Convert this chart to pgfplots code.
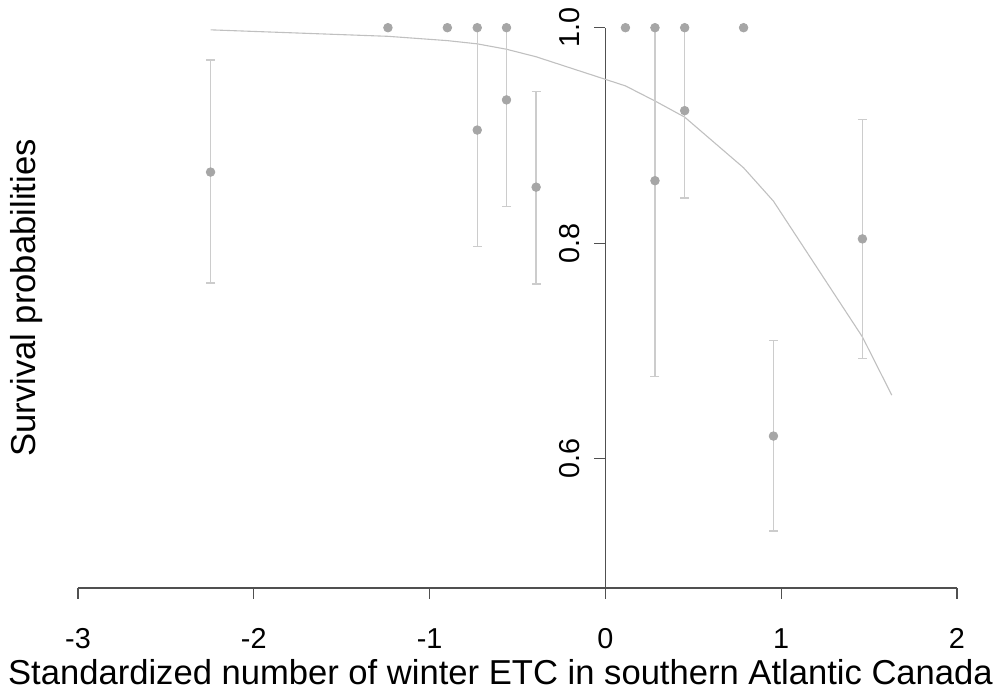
\documentclass[border=0pt]{standalone}
\usepackage{pgfplots}
\pgfplotsset{compat=1.18}
\usepackage{fontspec}
\setmainfont{Liberation Sans}
\definecolor{ptcol}{RGB}{166,166,166}
\definecolor{barcol}{RGB}{204,204,204}
\definecolor{curvecol}{RGB}{192,192,192}
\definecolor{axcol}{RGB}{80,80,80}
\begin{document}
\begin{tikzpicture}
\begin{axis}[
  at={(0,0)}, anchor=south west,
  scale only axis, width=439.5pt, height=280.15pt,
  xmin=-3, xmax=2, ymin=0.48, ymax=1.0,
  enlargelimits=false, clip=false,
  axis x line=bottom, axis y line=center,
  axis line style={-, draw=axcol, line width=0.55pt},
  hide obscured x ticks=false, hide obscured y ticks=false,
  xtick={-3,-2,-1,0,1,2}, ytick={0.6,0.8,1.0},
  yticklabels={0.6,0.8,1.0},
  tick align=outside, major tick length=5.5pt,
  tick style={draw=axcol, line width=0.55pt},
  /pgf/number format/assume math mode=true,
  ticklabel style={font=\fontsize{14.4}{17}\selectfont},
  xticklabel style={anchor=base, yshift=-25pt},
  yticklabel style={rotate=90, anchor=base, yshift=7.5pt},
  xticklabel={\pgfmathprintnumber{\tick}},
]
% fitted survival curve
\addplot[curvecol, line width=0.55pt, no markers] coordinates {
(-2.246,0.998) (-1.237,0.992) (-0.899,0.988) (-0.729,0.985) (-0.5625,0.980)
(-0.394,0.973) (0.114,0.946) (0.282,0.932) (0.451,0.917) (0.786,0.870)
(0.956,0.839) (1.462,0.713) (1.629,0.659)
};
% estimates with confidence intervals
\addplot[only marks, mark=*, mark size=2.15pt, mark options={fill=ptcol, draw=ptcol},
  error bars/.cd, y dir=both, y explicit,
  error bar style={draw=barcol, line width=0.65pt},
  error mark options={rotate=90, mark size=2.25pt, draw=barcol, line width=0.65pt}]
coordinates {
(-2.246,0.866) += (0,0.104) -= (0,0.103)
(-0.729,0.905) += (0,0.095) -= (0,0.108)
(-0.5625,0.933) += (0,0.067) -= (0,0.099)
(-0.394,0.852) += (0,0.089) -= (0,0.090)
(0.282,0.858) += (0,0.142) -= (0,0.182)
(0.451,0.923) += (0,0.077) -= (0,0.081)
(0.956,0.621) += (0,0.089) -= (0,0.088)
(1.462,0.804) += (0,0.111) -= (0,0.111)
};
% estimates at 1.0
\addplot[only marks, mark=*, mark size=2.15pt, mark options={fill=ptcol, draw=ptcol}]
coordinates {
(-1.237,1.0) (-0.899,1.0) (-0.729,1.0) (-0.5625,1.0)
(0.114,1.0) (0.282,1.0) (0.451,1.0) (0.786,1.0)
};
\end{axis}
\node[anchor=base, font=\fontsize{17.3}{20}\selectfont] at (211.25pt,-48.5pt)
  {Standardized number of winter ETC in southern Atlantic Canada};
\node[rotate=90, anchor=base, font=\fontsize{17.3}{20}\selectfont] at (-21.5pt,145pt)
  {Survival probabilities};
\pgfresetboundingbox
\path (-39pt,-53pt) rectangle (460pt,294pt);
\end{tikzpicture}
\end{document}
